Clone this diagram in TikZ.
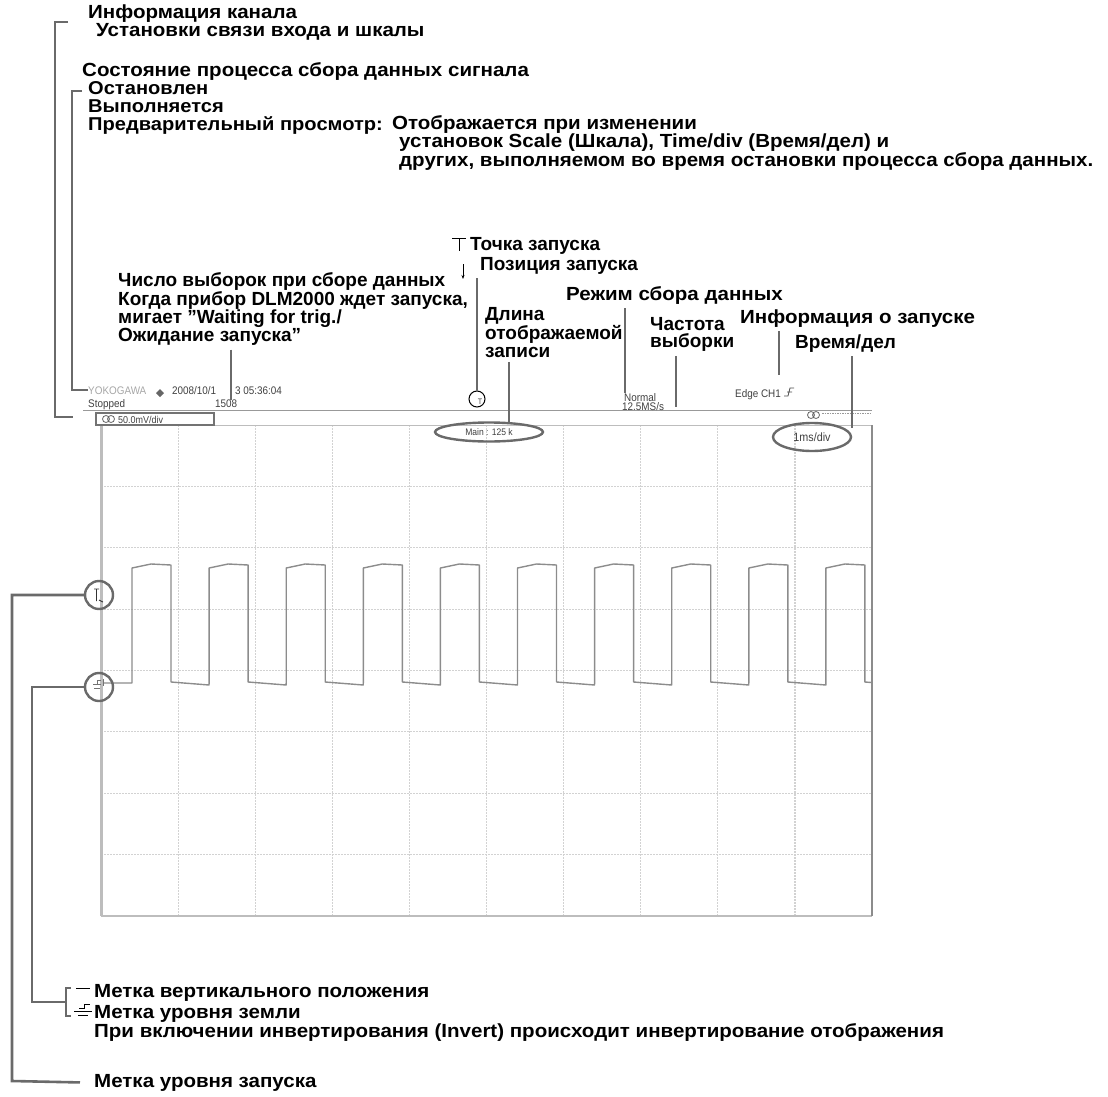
\documentclass[tikz,border=0pt]{standalone}
\usepackage{fontspec}
\setmainfont{Liberation Sans}
\newfontfamily\widefont[FakeStretch=1.08]{Liberation Sans}
\newfontfamily\scrfont[FakeStretch=0.9]{Liberation Sans}
\usetikzlibrary{positioning, shapes.geometric, arrows.meta}
\definecolor{leadcolor}{HTML}{6a6a6a}
\definecolor{gridcolor}{HTML}{d2d2d2}
\definecolor{framecolor}{HTML}{bdbdbd}
\definecolor{tracecolor}{HTML}{8c8c8c}

\tikzset{
    lbl/.style={font=\bfseries\fontsize{19}{17.8}\selectfont, inner sep=0pt, align=left, anchor=base west},
    lblw/.style={lbl, font=\widefont\bfseries\fontsize{19}{17.8}\selectfont},
    lead/.style={draw=leadcolor, line width=2.6pt},
    scr/.style={font=\scrfont\fontsize{11}{11}\selectfont, inner sep=0pt, text=black!75},
    icon/.style={line width=0.9pt},
    trace/.style={draw=tracecolor, line width=1.4pt, line join=round},
}

\begin{document}
\begin{tikzpicture}[x=1pt, y=-1pt]
    \useasboundingbox (0, 0) rectangle (1108, 1097);

    % надписи сверху (координата = базовая линия последней строки)
    \node [lblw] (lblChan) at (88, 36.8) {Информация канала\\\hspace*{8pt}Установки связи входа и шкалы};
    \node [lblw] (lblState) at (82, 77) {Состояние процесса сбора данных сигнала};
    \node [lblw, font=\widefont\bfseries\fontsize{18.6}{18.3}\selectfont] (lblRun) at (88, 131) {Остановлен\\Выполняется\\Предварительный просмотр:};
    \node [lblw] (lblPrevTxt) at (392, 166.6) {Отображается при изменении\\\hspace*{7pt}установок Scale (Шкала), Time/div (Время/дел) и\\\hspace*{7pt}других, выполняемом во время остановки процесса сбора данных.};

    % скобки слева
    \draw [lead] (68, 22) -- (55, 22) -- (55, 417) -- (73, 417);
    \draw [lead] (82, 91) -- (72, 91) -- (72, 390) -- (88, 390);

    % надписи над экраном
    \node [lbl] (lblTpt) at (470, 250) {Точка запуска};
    \node [lbl] (lblTpos) at (480, 270) {Позиция запуска};
    \draw [icon] (452, 238) -- (466, 238) (459, 238) -- (459, 251);
    \draw [icon, -{Stealth[length=4pt, width=3pt]}] (463, 264) -- (463, 279);
    \node [lbl] (lblNum) at (118, 341.4) {Число выборок при сборе данных\\Когда прибор DLM2000 ждет запуска,\\мигает "Waiting for trig./\\Ожидание запуска"};
    \node [lblw] (lblMode) at (566, 300) {Режим сбора данных};
    \node [lbl] (lblLen) at (485, 357.6) {Длина\\отображаемой\\записи};
    \node [lbl] (lblRate) at (650, 347.8) {Частота\\выборки};
    \node [lblw] (lblTrig) at (740, 323) {Информация о запуске};
    \node [lbl] (lblDiv) at (795, 348) {Время/дел};

    % экран
    \foreach \i in {1, ..., 9} {%
            \draw [gridcolor, line width=1.2pt, dash pattern=on 1.5pt off 1.5pt] ({101+77.1*\i}, 425) -- ++(0, 491);
        }
    \foreach \j in {1, ..., 7} {%
            \draw [gridcolor, line width=1.2pt, dash pattern=on 1.5pt off 1.5pt] (101, {425+61.375*\j}) -- ++(771, 0);
        }
    \draw [framecolor, line width=1pt] (96, 425) -- (872, 425);
    \draw [framecolor, line width=1.5pt] (101, 916) -- (872, 916);
    \draw [framecolor, line width=3pt] (101, 425) -- (101, 916);
    \draw [black!45, line width=2.5pt] (872, 425) -- (872, 916);
    \draw [black!40, line width=1pt] (83, 410) -- (872, 410);
    \draw [black!55, line width=1.2pt] (96, 413) rectangle (214, 425);

    % сигнал
    \begin{scope}
        \clip (102, 425) rectangle (871, 916);
        \draw [trace] (104, 683) -- (132, 683)
        \foreach \k in {0, ..., 9} {%
                -- ({132+77.1*\k}, 568) -- ({151+77.1*\k}, 564) -- ({171+77.1*\k}, 565)
                -- ({171+77.1*\k}, 682) -- ({209+77.1*\k}, 685) -- ({209.1+77.1*\k}, 683)
            };
    \end{scope}

    % тексты на экране
    \node [scr, anchor=base west, text=black!35] (scrMaker) at (88, 394) {YOKOGAWA};
    \fill [black!60] (160, 389) -- ++(4, 4) -- ++(-4, 4) -- ++(-4, -4) -- cycle;
    \node [scr, anchor=base west] (scrDate) at (172, 394) {2008/10/1};
    \node [scr, anchor=base west] (scrTime) at (235, 394) {3 05:36:04};
    \node [scr, anchor=base west] (scrStop) at (88, 407) {Stopped};
    \node [scr, anchor=base west] (scrCount) at (215, 407) {1508};
    \node [scr, anchor=base west, font=\scrfont\fontsize{10}{10}\selectfont] (scrCh) at (118, 423) {50.0mV/div};
    \draw [black!60, line width=0.8pt] (106, 419) circle (3.5) (111, 419) circle (3.5);
    \node [scr, anchor=base west] (scrNorm) at (624, 401) {Normal};
    \node [scr, anchor=base west] (scrRate) at (622, 410) {12.5MS/s};
    \node [scr, anchor=base west] (scrEdge) at (735, 397) {Edge CH1};
    \draw [black!70, line width=0.8pt] (784, 396) -- (788, 396) -- (790, 388) -- (794, 388) (787, 392) -- (792, 392);
    \draw [black!60, line width=0.8pt] (811, 415) circle (3.5) (816, 415) circle (3.5);
    \draw [black!40, line width=1pt, dash pattern=on 1.5pt off 1pt] (822, 413) -- (872, 413);

    % обведенные метки
    \node [ellipse, draw=leadcolor, line width=2.4pt, minimum width=108, minimum height=19, scr, font=\scrfont\fontsize{9.5}{9.5}\selectfont] (mainLen) at (489, 432) {Main : 125 k};
    \node [ellipse, draw=leadcolor, line width=2.4pt, minimum width=78, minimum height=28, scr, font=\scrfont\fontsize{12}{12}\selectfont] (tdiv) at (812, 437) {1ms/div};
    \node [circle, draw, line width=1pt, minimum size=16, inner sep=0pt] (tposMark) at (477, 399) {};
    \node [scr, font=\scrfont\fontsize{8}{8}\selectfont] (tposT) at (480, 402) {T};
    \node [circle, draw=leadcolor, line width=2.4pt, minimum size=28, inner sep=0pt] (trigMark) at (99, 595) {};
    \draw [icon, black!80] (94, 589) -- (99, 589) (96.5, 589) -- (96.5, 601) (99, 600) -- (103, 602);
    \node [circle, draw=leadcolor, line width=2.4pt, minimum size=28, inner sep=0pt] (gndMark) at (99, 687) {};
    \draw [icon, black!55] (93, 684) -- (101, 684) (94, 688) -- (100, 688) (97, 684) -- (97, 680) -- (101, 680) (103, 679) -- (103, 686);

    % выноски
    \coordinate (cNum) at (231, 400);
    \coordinate (cMode) at (625, 393);
    \coordinate (cRate) at (676, 407);
    \coordinate (cTrig) at (779, 375);
    \draw [lead] (lblNum.south -| cNum) ++(0, 4) -- (cNum);
    \draw [lead, line width=2pt] (lblTpos.south -| tposMark) ++(0, 4) -- (tposMark.north);
    \draw [lead] (lblLen.south -| 509, 0) ++(0, 4) -- (509, 423);
    \draw [lead] (lblMode.south -| cMode) ++(0, 4) -- (cMode);
    \draw [lead] (lblRate.south -| cRate) ++(0, 4) -- (cRate);
    \draw [lead] (lblTrig.south -| cTrig) ++(0, 4) -- (cTrig);
    \draw [lead] (lblDiv.south -| 852, 0) ++(0, 4) -- (852, 428);

    % надписи снизу
    \node [lblw] (lblVpos) at (94, 997) {Метка вертикального положения};
    \node [lblw] (lblGnd) at (94, 1037.8) {Метка уровня земли\\При включении инвертирования (Invert) происходит инвертирование отображения};
    \node [lblw] (lblTlev) at (94, 1087) {Метка уровня запуска};
    \draw [icon] (76, 988) -- (90, 988);
    \draw [icon] (79, 1008) -- (84, 1008) -- (84, 1004) -- (90, 1004) (74, 1011) -- (92, 1011) (78, 1015) -- (88, 1015);
    \draw [lead, line width=2pt] (71, 988) -- (66, 988) -- (66, 1016) -- (71, 1016);
    \draw [lead] (trigMark.west) -- (12, 595) -- (12, 1081) -- ([xshift=-14pt]lblTlev.west);
    \draw [lead] (gndMark.west) -- (32, 687) -- (32, 1002) -- (66, 1002);
\end{tikzpicture}
\end{document}
